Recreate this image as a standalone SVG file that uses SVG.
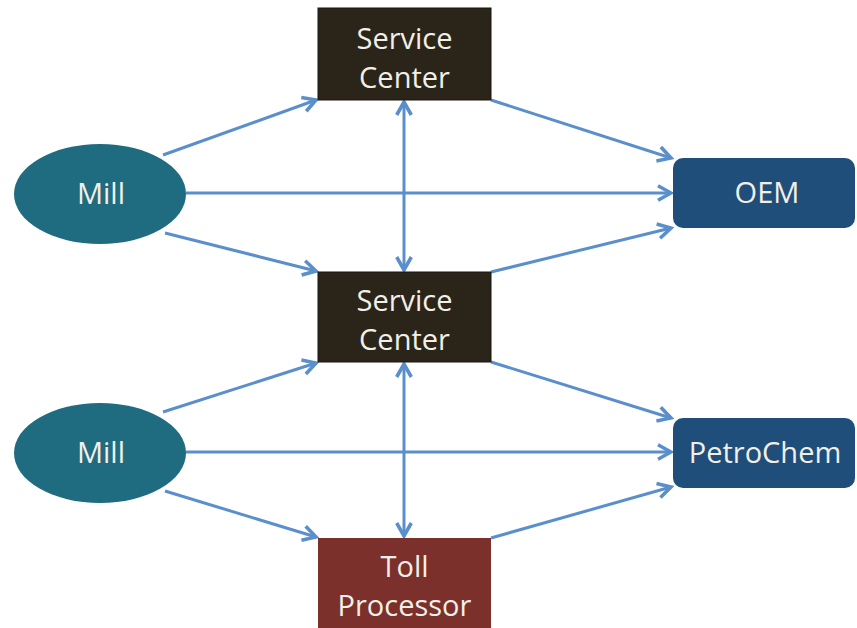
<svg xmlns="http://www.w3.org/2000/svg" width="857" height="628" viewBox="0 0 857 628">
  <style>
    .lbl { font-family: "Open Sans", "Liberation Sans", sans-serif; font-size: 29px; fill: #f2efe8; text-anchor: middle; }
    .edge { stroke: #5b8fcb; stroke-width: 3; fill: none; }
    .sc { fill: #2b2519; stroke: #1a1610; stroke-width: 1; }
    .mill { fill: #1f6b80; }
    .cust { fill: #1f4e7a; }
    .toll { fill: #7b302b; }
  </style>
  <defs>
    <marker id="arr" viewBox="0 0 12 12" refX="10" refY="6" markerWidth="6.5" markerHeight="6.5" orient="auto-start-reverse" markerUnits="strokeWidth">
      <path d="M2,1.5 L10,6 L2,10.5" fill="none" stroke="#5b8fcb" stroke-width="2.2" stroke-linejoin="miter"/>
    </marker>
  </defs>
  <rect width="857" height="628" fill="#ffffff"/>

  <g id="connectors">
    <!-- upper mill -->
    <line class="edge" x1="163" y1="155" x2="316" y2="100" marker-end="url(#arr)"/>
    <line class="edge" x1="186" y1="193" x2="671" y2="193" marker-end="url(#arr)"/>
    <line class="edge" x1="165" y1="233" x2="316" y2="271" marker-end="url(#arr)"/>
    <!-- service centers to OEM -->
    <line class="edge" x1="491" y1="100" x2="671" y2="158" marker-end="url(#arr)"/>
    <line class="edge" x1="491" y1="272" x2="671" y2="228" marker-end="url(#arr)"/>
    <!-- between service centers -->
    <line class="edge" x1="404" y1="102" x2="404" y2="270" marker-start="url(#arr)" marker-end="url(#arr)"/>
    <!-- lower mill -->
    <line class="edge" x1="163" y1="412" x2="316" y2="363" marker-end="url(#arr)"/>
    <line class="edge" x1="186" y1="452" x2="671" y2="452" marker-end="url(#arr)"/>
    <line class="edge" x1="165" y1="491" x2="316" y2="537" marker-end="url(#arr)"/>
    <!-- to PetroChem -->
    <line class="edge" x1="491" y1="362" x2="671" y2="418" marker-end="url(#arr)"/>
    <line class="edge" x1="491" y1="538" x2="671" y2="487" marker-end="url(#arr)"/>
    <!-- service center to toll processor -->
    <line class="edge" x1="404" y1="364" x2="404" y2="536" marker-start="url(#arr)" marker-end="url(#arr)"/>
  </g>

  <g id="service-center-1">
    <rect class="sc" x="318" y="8" width="173" height="92"/>
    <text class="lbl" x="404.5" y="49">Service</text>
    <text class="lbl" x="404.5" y="88">Center</text>
  </g>

  <g id="mill-1">
    <ellipse class="mill" cx="100" cy="194" rx="86" ry="50"/>
    <text class="lbl" x="101" y="204">Mill</text>
  </g>

  <g id="oem">
    <rect class="cust" x="673" y="158" width="182" height="70" rx="10"/>
    <text class="lbl" x="767" y="203">OEM</text>
  </g>

  <g id="service-center-2">
    <rect class="sc" x="318" y="272" width="173" height="90"/>
    <text class="lbl" x="404.5" y="311">Service</text>
    <text class="lbl" x="404.5" y="350">Center</text>
  </g>

  <g id="mill-2">
    <ellipse class="mill" cx="100" cy="453" rx="86" ry="50"/>
    <text class="lbl" x="101" y="463">Mill</text>
  </g>

  <g id="petrochem">
    <rect class="cust" x="673" y="418" width="182" height="70" rx="10"/>
    <text class="lbl" x="765" y="463">PetroChem</text>
  </g>

  <g id="toll-processor">
    <rect class="toll" x="318" y="538" width="173" height="95"/>
    <text class="lbl" x="404.5" y="577">Toll</text>
    <text class="lbl" x="404.5" y="616">Processor</text>
  </g>
</svg>
